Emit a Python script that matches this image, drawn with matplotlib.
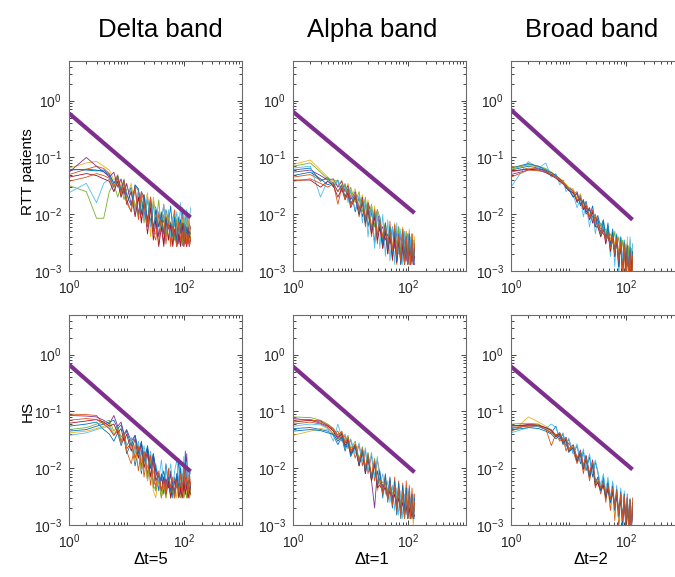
import matplotlib.pyplot as plt
from matplotlib.ticker import LogLocator, NullFormatter
import numpy as np

plt.rcParams['font.family'] = ['Liberation Sans', 'DejaVu Sans']
plt.rcParams['axes.unicode_minus'] = False

# time lag grid (in samples)
lag = [1, 2, 3, 4, 5, 6, 7, 8, 9, 10,
       12, 14, 16, 18, 20, 23, 26, 29,
       32, 36, 40, 44, 48, 53, 58, 63, 68, 74, 80, 86, 92, 98, 104, 110, 116, 122, 128]

# autocorrelation decay per subject, units of 1e-4
rtt_delta = [
    [600,620,600,560,480,300,420,250,380,200, 300,120,250,180,90,200,70,150, 130,60,110,45,120,70,140,50,100,35,90,60,130,40,80,110,45,70,55],
    [500,620,700,640,520,350,450,250,400,180, 110,320,260,80,220,60,160,45, 45,110,70,150,40,95,30,80,120,27,70,45,90,30,60,27,85,40,60],
    [650,800,850,700,600,400,500,300,420,200, 350,120,280,90,140,240,40,200, 100,30,80,45,110,35,75,28,95,40,60,30,80,35,55,28,70,30,50],
    [550,1000,700,560,450,550,300,420,220,350, 150,300,100,250,200,70,200,50, 120,40,90,30,70,100,45,60,35,80,30,60,28,75,40,55,30,45,35],
    [320,250,85,85,250,350,200,320,180,280, 260,150,90,220,70,180,60,150, 60,180,50,100,40,90,60,70,35,85,50,70,30,100,45,80,40,60,35],
    [240,350,160,350,420,250,400,200,350,150, 280,100,230,150,80,200,60,170, 55,110,80,150,50,120,40,90,60,110,45,160,40,90,50,120,40,70,130],
    [450,520,480,420,380,250,380,200,300,150, 250,90,200,70,160,45,130,35, 80,27,60,27,90,35,70,27,55,27,45,27,70,27,40,27,60,27,35],
    [620,600,580,600,500,350,480,250,400,220, 140,330,280,100,220,80,190,60, 90,60,100,45,80,55,70,40,90,35,60,80,40,70,30,60,40,50,45],
    [380,450,520,480,430,300,450,220,380,160, 110,300,80,250,160,60,200,45, 35,100,60,80,30,70,27,60,45,27,75,35,50,27,65,30,45,27,40],
]

rtt_alpha = [
    [600,650,380,450,300,400,250,330,180,260, 110,200,90,150,60,130,30,90, 90,30,70,25,60,18,65,15,50,20,55,13,45,18,50,13,40,15,35],
    [450,500,400,420,350,150,300,200,280,150, 220,90,180,60,140,40,110,30, 80,25,60,20,75,15,55,13,60,18,45,13,50,15,40,13,45,13,30],
    [750,900,600,450,380,320,400,250,350,200, 280,130,220,90,180,60,140,50, 80,40,70,30,60,25,70,20,55,15,60,13,50,18,55,13,45,15,40],
    [550,600,480,400,420,300,380,250,320,180, 250,120,200,80,160,100,60,120, 50,60,35,45,30,60,25,50,20,45,18,40,15,45,13,35,15,30,13],
    [700,800,550,420,400,380,250,350,200,300, 160,250,110,200,80,150,60,120, 90,35,70,25,55,20,45,30,60,18,50,22,45,15,40,18,35,14,30],
    [650,700,200,400,330,380,250,300,160,260, 120,220,70,180,40,150,25,110, 25,100,18,80,15,60,13,70,20,55,13,50,18,45,13,40,15,35,14],
    [400,400,300,380,320,200,280,180,240,130, 200,100,160,70,120,45,90,35, 60,25,50,20,45,16,40,14,35,13,30,13,28,13,25,13,22,13,18],
    [480,550,420,330,360,250,330,200,280,150, 220,100,170,70,140,50,110,40, 80,30,70,25,60,20,55,15,45,13,50,18,40,13,45,15,35,13,25],
    [380,420,350,300,340,250,320,180,280,140, 230,110,180,80,150,55,120,40, 75,40,60,30,50,22,65,18,42,15,55,13,40,13,35,13,45,13,30],
]

rtt_broad = [
    [600,700,650,580,480,500,380,400,280,300, 260,160,220,120,170,90,140,70, 95,60,80,40,70,30,55,20,45,12,40,8,35,15,30,10,25,7,20],
    [550,650,620,600,500,470,420,380,330,290, 230,250,150,180,110,130,70,100, 70,55,60,40,50,35,45,25,40,20,35,15,30,12,28,10,25,8,22],
    [680,720,680,620,560,480,430,370,340,300, 280,190,230,140,150,100,110,70, 75,60,55,45,50,35,40,30,38,20,35,12,30,8,40,6,35,10,30],
    [500,600,640,560,500,450,380,360,300,280, 200,230,150,170,100,130,70,90, 60,50,45,40,38,30,35,22,30,18,28,15,25,12,22,10,20,9,15],
    [620,750,700,640,540,460,410,360,320,260, 250,170,200,130,140,90,110,80, 65,70,50,55,40,45,30,50,25,40,20,35,15,30,12,28,10,25,8],
    [300,850,640,800,450,520,330,380,250,290, 220,130,190,90,150,60,120,45, 80,40,70,30,60,18,50,12,45,8,40,15,35,10,30,8,40,12,30],
    [580,620,600,540,480,430,380,340,300,260, 240,170,190,120,140,80,110,60, 60,40,55,30,48,22,40,18,35,12,30,8,28,10,25,7,22,6,18],
    [650,780,700,600,540,480,420,360,320,280, 200,240,140,180,110,120,90,60, 85,45,75,35,60,25,50,18,42,12,38,9,32,14,28,8,26,11,22],
    [450,600,580,560,510,460,400,350,310,280, 260,180,200,130,150,90,120,65, 70,45,55,35,48,25,40,20,38,15,32,10,30,6,25,8,22,5,18],
]

hs_delta = [
    [550,600,650,480,400,300,420,250,350,180, 280,110,220,80,190,60,150,45, 110,40,80,35,120,45,90,30,70,50,150,40,80,35,200,45,60,30,50],
    [900,880,850,600,500,380,450,280,350,200, 120,260,90,210,70,180,50,130, 40,90,30,70,45,100,35,60,30,80,40,55,30,90,35,60,30,75,40],
    [420,450,500,550,600,400,500,300,380,220, 280,130,220,90,170,60,140,40, 30,80,30,55,30,70,30,45,60,30,50,30,40,30,55,30,45,30,35],
    [850,830,800,700,600,850,550,650,400,480, 300,380,200,280,150,230,100,180, 90,60,70,50,65,45,80,40,60,45,70,35,55,40,60,180,50,65,45],
    [480,520,600,650,700,450,550,350,420,250, 330,150,260,100,200,70,150,50, 40,60,30,50,30,70,30,45,30,60,35,30,50,30,40,30,55,30,40],
    [380,420,480,520,560,380,480,300,400,250, 350,180,300,130,250,100,200,80, 120,60,140,50,100,70,120,45,90,140,60,110,50,160,70,130,60,100,80],
    [620,680,720,650,550,600,420,500,300,400, 200,330,150,270,100,210,70,160, 60,80,40,70,35,60,30,50,40,70,30,45,30,60,35,50,30,40,35],
    [450,480,550,600,650,700,500,580,380,450, 250,380,180,300,130,250,100,180, 100,70,60,90,50,70,40,60,35,80,45,100,40,70,110,50,60,40,55],
    [700,750,720,600,500,380,480,300,400,220, 280,150,240,110,200,80,170,60, 50,80,40,60,35,90,45,70,30,60,40,80,35,120,45,70,35,90,50],
]

hs_alpha = [
    [500,520,480,450,380,260,350,200,300,160, 240,110,200,80,160,60,130,45, 70,45,60,30,55,25,50,20,45,15,40,13,35,18,40,13,30,15,25],
    [600,650,600,520,400,450,300,380,220,320, 150,260,110,210,80,170,60,140, 85,40,75,30,65,25,70,20,60,18,55,15,60,13,50,20,45,13,35],
    [380,450,500,480,420,300,380,250,330,180, 260,120,200,90,150,60,120,40, 60,35,50,28,45,20,40,15,35,13,30,13,38,13,28,13,25,10,20],
    [750,700,620,550,480,350,420,280,340,200, 260,140,220,100,180,60,20,90, 60,50,45,40,55,30,45,25,40,20,35,18,30,15,28,13,25,13,20],
    [800,780,700,600,500,380,450,300,380,220, 300,140,240,100,190,70,150,55, 70,55,60,40,50,35,45,28,40,22,35,18,30,15,28,13,25,13,20],
    [550,600,580,500,300,600,350,400,250,330, 180,280,130,230,90,190,70,160, 50,80,35,60,25,50,18,45,15,40,13,35,15,45,13,30,15,35,13],
    [650,700,680,560,450,330,400,250,320,180, 250,110,200,80,160,60,120,45, 50,40,45,30,40,25,35,20,30,18,25,15,22,13,20,13,18,13,15],
    [450,480,460,420,400,300,360,230,300,170, 240,120,190,90,150,65,130,50, 90,30,80,25,70,20,60,15,55,13,50,18,45,13,40,15,35,13,30],
    [700,720,650,580,500,380,440,280,350,200, 270,130,220,100,170,75,140,55, 65,35,60,28,55,22,50,18,45,15,40,13,35,13,45,13,30,13,25],
]

hs_broad = [
    [500,560,540,480,420,550,320,400,240,330, 180,250,120,200,90,160,70,130, 85,40,70,30,60,20,55,15,45,10,40,12,35,8,30,10,28,7,25],
    [450,600,580,500,250,400,300,350,200,280, 200,120,170,80,140,60,110,45, 60,35,55,25,48,18,45,12,40,10,35,8,30,12,35,7,28,9,30],
    [420,800,650,550,480,380,420,280,330,200, 250,140,200,100,160,75,130,55, 55,40,48,30,42,22,38,15,35,12,30,9,28,12,25,8,22,10,20],
    [550,580,560,520,470,380,420,300,350,220, 260,150,210,110,170,80,140,60, 55,45,50,35,40,28,35,22,30,18,28,14,25,12,22,10,20,9,18],
    [600,620,600,500,430,350,400,280,330,210, 240,140,190,100,150,70,120,55, 60,45,55,35,45,25,40,20,35,15,30,10,28,12,25,8,22,10,20],
    [420,520,550,500,600,520,350,420,260,340, 180,270,130,220,100,180,80,140, 90,50,80,40,70,30,60,20,50,15,45,10,40,12,35,8,30,9,25],
    [560,580,570,520,460,360,400,280,320,200, 230,130,190,95,160,70,120,50, 55,40,50,30,45,25,40,20,35,15,30,12,28,10,25,9,22,8,20],
    [470,520,500,450,400,330,380,260,320,190, 230,140,180,100,150,70,120,55, 70,40,60,30,55,25,48,18,42,14,38,10,35,12,30,9,28,8,25],
    [520,550,560,480,420,380,420,290,350,210, 240,150,200,110,160,80,130,60, 65,45,58,35,50,28,45,20,40,15,35,12,32,10,30,8,28,7,25],
]

# power-law reference line: value at lag 1 and at the last lag
fit_lag = [1, 128]
fit_start = [[0.60, 0.64, 0.69], [0.67, 0.62, 0.62]]
fit_end = [[0.0088, 0.0105, 0.0080], [0.0088, 0.0085, 0.0095]]

bands = ['Delta band', 'Alpha band', 'Broad band']
groups = ['RTT patients', 'HS']
steps = ['\u0394t=5', '\u0394t=1', '\u0394t=2']
data = [[rtt_delta, rtt_alpha, rtt_broad], [hs_delta, hs_alpha, hs_broad]]

colors = ['#0072BD', '#D95319', '#EDB120', '#7E2F8E', '#77AC30', '#4DBEEE', '#A2142F']

W, H = 675, 577
fig = plt.figure(figsize=(W / 100, H / 100), dpi=100)

lefts = [69, 293, 511]
bottoms = [306, 52]
aw, ah = 173, 210

x = np.array(lag)
for r in range(2):
    for c in range(3):
        ax = fig.add_axes([lefts[c] / W, bottoms[r] / H, aw / W, ah / H])
        for i, s in enumerate(data[r][c]):
            ax.plot(x, np.array(s) * 1e-4, color=colors[i % 7], lw=0.6)
        ax.plot(fit_lag, [fit_start[r][c], fit_end[r][c]], color='#7E2F8E', lw=3,
                solid_capstyle='butt')
        ax.set_xscale('log')
        ax.set_yscale('log')
        ax.set_xlim(1, 1000)
        ax.set_ylim(1e-3, 5)
        ax.set_xticks([1, 100])
        ax.set_yticks([1e-3, 1e-2, 1e-1, 1])
        ax.xaxis.set_minor_locator(LogLocator(base=10, subs=np.arange(1, 10), numticks=30))
        ax.yaxis.set_minor_locator(LogLocator(base=10, subs=np.arange(2, 10), numticks=30))
        ax.xaxis.set_minor_formatter(NullFormatter())
        ax.yaxis.set_minor_formatter(NullFormatter())
        ax.tick_params(which='both', direction='in', top=True, right=True,
                       colors='#262626', labelsize=10, width=0.6)
        ax.tick_params(which='major', length=3.5, pad=5)
        ax.tick_params(which='minor', length=2)
        for sp in ax.spines.values():
            sp.set_color('#6b6b6b')
            sp.set_linewidth(0.8)

title_x = [160, 372, 592]
for c in range(3):
    fig.text(title_x[c] / W, 1 - 37 / H, bands[c], fontsize=18.5, ha='center', va='baseline')

step_x = [151, 372, 591]
for c in range(3):
    fig.text(step_x[c] / W, 1 - 560 / H, steps[c], fontsize=12, ha='center', va='center')

fig.text(28 / W, 1 - 172 / H, groups[0], fontsize=11, rotation=90, ha='center', va='center')
fig.text(28 / W, 1 - 411 / H, groups[1], fontsize=11, rotation=90, ha='center', va='center')

fig.savefig('out.png', dpi=100, facecolor='white')
